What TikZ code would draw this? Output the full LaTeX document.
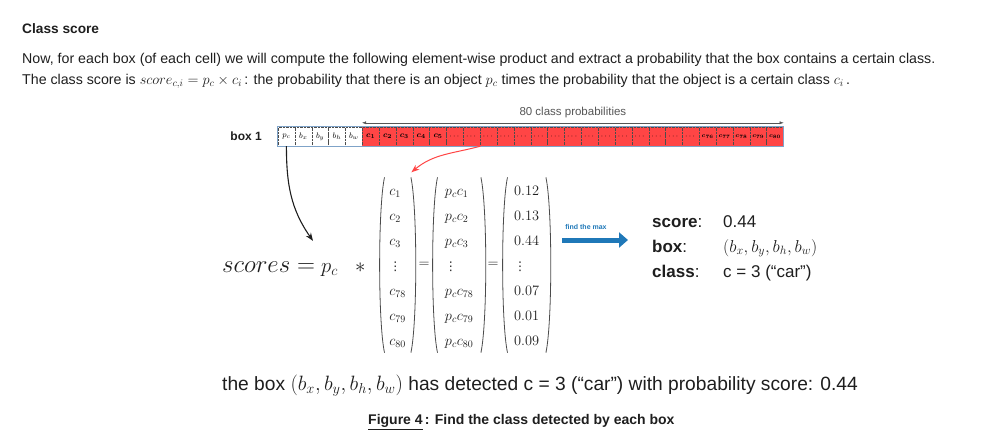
\documentclass[tikz,border=0pt]{standalone}
\usepackage{fontspec}
\usepackage{amsmath}
\setmainfont{Liberation Sans}
\newfontfamily\symfont{DejaVu Sans}
\usetikzlibrary{positioning, calc, arrows.meta}
\definecolor{Ink}{HTML}{1E1E1E}
\definecolor{Grey}{HTML}{555555}
\definecolor{Cred}{HTML}{FF4545}
\definecolor{Cblue}{HTML}{1F78B8}
\definecolor{Cframe}{HTML}{7FA3C8}
\tikzset{
    txt/.style={anchor=base west, inner sep=0pt, text=Ink, font=\fontsize{14.2}{17}\selectfont},
    cellbox/.style={draw=black!70, densely dotted, thin, minimum width=16.85pt, minimum height=19pt, inner sep=0pt, font=\fontsize{8.5}{9}\selectfont},
    bigmath/.style={anchor=base west, inner sep=0pt, text=Ink, font=\fontsize{23}{28}\selectfont},
    matnode/.style={anchor=west, inner sep=0pt, minimum height=174pt, text=Ink, font=\fontsize{14}{25}\selectfont},
    parenline/.style={draw=Ink!80, line width=0.8pt},
    reslbl/.style={anchor=base west, inner sep=0pt, text=Ink, font=\fontsize{17}{20}\selectfont},
    maxarrow/.style={-{Triangle[width=15pt,length=9pt]}, line width=5pt, color=Cblue},
}
% parentheses fines autour d'un noeud
\newcommand{\drawparens}[1]{%
    \draw[parenline] ([xshift=4.5pt]#1.north west) .. controls ([xshift=-2pt,yshift=-30pt]#1.north west) and ([xshift=-2pt,yshift=30pt]#1.south west) .. ([xshift=4.5pt]#1.south west);
    \draw[parenline] ([xshift=-4.5pt]#1.north east) .. controls ([xshift=2pt,yshift=-30pt]#1.north east) and ([xshift=2pt,yshift=30pt]#1.south east) .. ([xshift=-4.5pt]#1.south east);}
\newcommand{\vdotsglyph}{\text{\symfont\fontsize{12}{14}\selectfont ⋮}}

\begin{document}
\begin{tikzpicture}[x=1pt, y=1pt]
            \useasboundingbox (0,0) rectangle (992,-447);

            % Texte en haut
            \node[txt, font=\bfseries\fontsize{13.7}{16}\selectfont] (title) at (22,-33) {Class score};
            \node[txt] (line1) at (22,-63) {Now, for each box (of each cell) we will compute the following element-wise product and extract a probability that the box contains a certain class.};
            \node[txt] (line2) at (22,-84) {The class score is $score_{c,i} = p_c \times c_i$\,: the probability that there is an object $p_c$ times the probability that the object is a certain class $c_i$\,.};

            % Vecteur de la box
            \node[anchor=east, inner sep=0pt, font=\bfseries\fontsize{12}{14}\selectfont, text=Ink] (boxname) at (262,-136.5) {box 1};
            \foreach \lab [count=\i] in {p_c,b_x,b_y,b_h,b_w}
                \node[cellbox, fill=white] (cell\i) at ({278+(\i-0.5)*16.85},-136.5) {$\lab$};
            \foreach \lab [count=\i from 6] in {c_1,c_2,c_3,c_4,c_5}
                \node[cellbox, fill=Cred] (cell\i) at ({278+(\i-0.5)*16.85},-136.5) {$\boldsymbol{\lab}$};
            \foreach \i in {11,...,25}
                \node[cellbox, fill=Cred] (cell\i) at ({278+(\i-0.5)*16.85},-136.5) {$\cdots$};
            \foreach \lab [count=\i from 26] in {c_{76},c_{77},c_{78},c_{79},c_{80}}
                \node[cellbox, fill=Cred, font=\fontsize{6.5}{7}\selectfont] (cell\i) at ({278+(\i-0.5)*16.85},-136.5) {$\boldsymbol{\lab}$};
            \draw[Cframe, line width=1pt] (cell1.north west) rectangle (cell30.south east);

            \draw[{Latex[length=4pt]}-{Latex[length=4pt]}, Grey] ([yshift=4pt]cell6.north west) -- ([yshift=4pt]cell30.north east)
                node[midway, above=1pt, font=\fontsize{11.5}{13}\selectfont, text=Grey] (probs) {80 class probabilities};

            % Equation
            \node[bigmath] (scores) at (222,-272) {$scores=$};
            \node[bigmath, font=\fontsize{22}{26}\selectfont] (pc) at (321,-272) {$p_c$};
            \node[bigmath, font=\fontsize{22}{26}\selectfont] (star) at (355,-272) {$*$};
            \node[matnode, minimum width=35pt] (mat1) at (380,-265) {$\begin{array}{@{}l@{}} c_1\\ c_2\\ c_3\\ \vdotsglyph\\ c_{78}\\ c_{79}\\ c_{80} \end{array}$};
            \node[matnode, anchor=center, minimum height=0pt] (eq1) at (424,-265) {$=$};
            \node[matnode, minimum width=52pt] (mat2) at (433,-265) {$\begin{array}{@{}l@{}} p_cc_1\\ p_cc_2\\ p_cc_3\\ \vdotsglyph\\ p_cc_{78}\\ p_cc_{79}\\ p_cc_{80} \end{array}$};
            \node[matnode, anchor=center, minimum height=0pt] (eq2) at (493,-265) {$=$};
            \node[matnode, minimum width=47pt] (mat3) at (503,-265) {$\begin{array}{@{}l@{}} 0.12\\ 0.13\\ 0.44\\ \vdotsglyph\\ 0.07\\ 0.01\\ 0.09 \end{array}$};
            \drawparens{mat1}
            \drawparens{mat2}
            \drawparens{mat3}

            % Fleches
            \draw[-{Stealth[length=8pt,width=6pt]}, line width=1.1pt, Ink] (cell1.south) to[out=-90, in=125] ([xshift=-8pt,yshift=22pt]pc.north west);
            \draw[-{Stealth[length=8pt,width=6pt]}, line width=1pt, Cred] (cell12.south east) to[out=195, in=40] ([xshift=-4pt,yshift=5pt]mat1.north east);

            % Resultat
            \coordinate (maxL) at (562,-240);
            \coordinate (maxR) at (628,-240);
            \draw[maxarrow] (maxL) -- (maxR);
            \node[inner sep=0pt, font=\bfseries\fontsize{7}{8}\selectfont, text=Cblue] (findmax) at (586,-227) {find the max};

            \node[reslbl] (scorelbl) at (652,-227) {\textbf{score}:};
            \node[reslbl] (boxlbl) at (652,-252) {\textbf{box}:};
            \node[reslbl] (classlbl) at (652,-277) {\textbf{class}:};
            \node[reslbl] (scoreval) at (723,-227) {0.44};
            \node[reslbl] (boxval) at (723,-252) {$(b_x,b_y,b_h,b_w)$};
            \node[reslbl] (classval) at (723,-277) {c = 3 (“car”)};

            % Legende
            \node[txt, font=\fontsize{19.2}{22}\selectfont] (summary) at (222,-390) {the box $(b_x,b_y,b_h,b_w)$ has detected c = 3 (“car”) with probability score: 0.44};
            \node[txt, font=\bfseries\fontsize{14}{16}\selectfont] (caption) at (368,-424) {\underline{Figure 4}\,: Find the class detected by each box};
        \end{tikzpicture}
\end{document}
